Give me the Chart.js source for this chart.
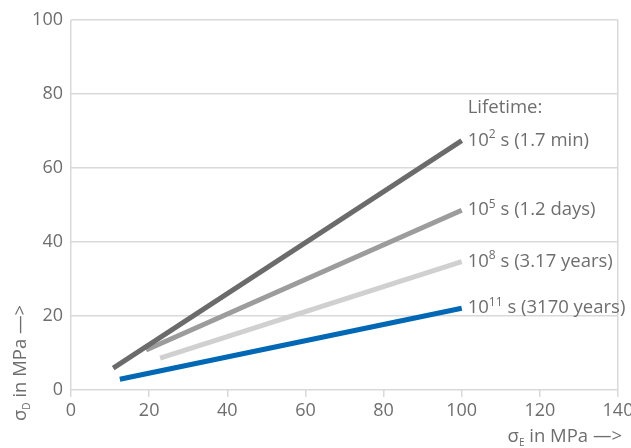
<!DOCTYPE html>
<html>
<head>
<meta charset="utf-8">
<script src="https://cdn.jsdelivr.net/npm/chart.js@4"></script>
<style>
  html, body { margin: 0; padding: 0; background: #fff; }
  #wrap { width: 631px; height: 448px; }
</style>
</head>
<body>
<div id="wrap"><canvas id="c" width="631" height="448"></canvas></div>
<script>
// lifetimes, one line each
const exps = ['2', '5', '8', '11'];
const labels = [' s (1.7 min)', ' s (1.2 days)', ' s (3.17 years)', ' s (3170 years)'];
const colors = ['#6b6b6b', '#9c9c9c', '#d0d0d0', '#0068b4'];
const startX = [10.8, 19.2, 22.8, 12.5];
const startY = [5.9, 10.8, 8.6, 2.9];
const endX = [100, 100, 100, 100];
const endY = [67.4, 48.6, 34.7, 22.1];
const xTicks = [0, 20, 40, 60, 80, 100, 120, 140];
const yTicks = [0, 20, 40, 60, 80, 100];

const FONT = '"Open Sans", sans-serif';
const TXT = '#6e6e6e';
const GRID = '#d9d9d9';

const datasets = exps.map((e, i) => ({
  label: '10^' + e + labels[i],
  data: [{ x: startX[i], y: startY[i] }, { x: endX[i], y: endY[i] }],
  borderColor: colors[i],
  borderWidth: 5,
  borderCapStyle: 'butt',
  pointRadius: 0,
  fill: false
}));

// text with sub/superscripts drawn on canvas
function drawParts(ctx, parts, x, y) {
  parts.forEach(p => {
    ctx.font = p.size + 'px ' + FONT;
    ctx.fillText(p.t, x, y + (p.dy || 0));
    x += ctx.measureText(p.t).width;
  });
}
function partsWidth(ctx, parts) {
  return parts.reduce((w, p) => { ctx.font = p.size + 'px ' + FONT; return w + ctx.measureText(p.t).width; }, 0);
}

const annot = {
  id: 'annot',
  afterDraw(chart) {
    const { ctx, scales: { x, y } } = chart;
    ctx.save();
    ctx.fillStyle = TXT;
    ctx.textBaseline = 'middle';
    ctx.textAlign = 'left';

    exps.forEach((e, i) => {
      const px = x.getPixelForValue(endX[i]) + 6;
      const py = y.getPixelForValue(endY[i]);
      drawParts(ctx, [
        { t: '10', size: 18.5 },
        { t: e, size: 12, dy: -6 },
        { t: labels[i], size: 18.5 }
      ], px, py);
    });
    // heading above first label
    ctx.font = '18.5px ' + FONT;
    ctx.fillText('Lifetime:', x.getPixelForValue(endX[0]) + 6, y.getPixelForValue(endY[0]) - 33);

    // axis titles
    ctx.textBaseline = 'alphabetic';
    const xt = [
      { t: 'σ', size: 18.5 },
      { t: 'E', size: 10, dy: 4 },
      { t: ' in MPa —>', size: 18.5 }
    ];
    drawParts(ctx, xt, 622 - partsWidth(ctx, xt), 442);

    ctx.translate(26, 421);
    ctx.rotate(-Math.PI / 2);
    drawParts(ctx, [
      { t: 'σ', size: 18.5 },
      { t: 'D', size: 10, dy: 4 },
      { t: ' in MPa —>', size: 18.5 }
    ], 0, 0);
    ctx.restore();
  }
};

new Chart(document.getElementById('c'), {
  type: 'line',
  data: { datasets },
  options: {
    responsive: false,
    animation: false,
    layout: { padding: { top: 20, right: 13, left: 0, bottom: 0 } },
    plugins: { legend: { display: false }, tooltip: { enabled: false } },
    scales: {
      x: {
        type: 'linear',
        min: 0, max: 140,
        afterBuildTicks: s => { s.ticks = xTicks.map(v => ({ value: v })); },
        afterFit: s => { s.height = 58; s.paddingLeft = 0; s.paddingRight = 0; },
        ticks: { color: TXT, font: { family: FONT, size: 18 }, padding: 3, maxRotation: 0 },
        grid: {
          color: c => (c.tick && (c.tick.value === 0 || c.tick.value === 140)) ? GRID : 'transparent',
          tickColor: GRID,
          tickLength: 7,
          lineWidth: 1.5
        },
        border: { display: false }
      },
      y: {
        min: 0, max: 100,
        afterBuildTicks: s => { s.ticks = yTicks.map(v => ({ value: v })); },
        afterFit: s => { s.width = 71; s.paddingTop = 0; s.paddingBottom = 0; },
        ticks: { color: TXT, font: { family: FONT, size: 18 }, padding: 8 },
        grid: { color: GRID, lineWidth: 1.5, drawTicks: false },
        border: { display: false }
      }
    }
  },
  plugins: [annot]
});
</script>
</body>
</html>
